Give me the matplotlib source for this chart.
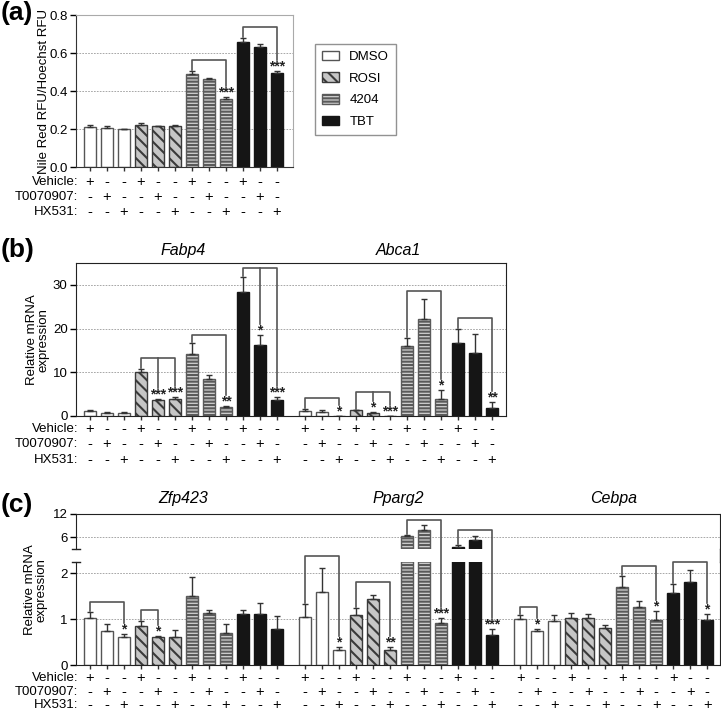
import numpy as np
import matplotlib
matplotlib.use('Agg')
import matplotlib.pyplot as plt
from matplotlib.patches import Patch
from matplotlib.lines import Line2D
from matplotlib.ticker import FormatStrFormatter

plt.rcParams['font.family'] = ['Liberation Sans', 'DejaVu Sans']
plt.rcParams['hatch.linewidth'] = 1.5

treatments = ['DMSO', 'ROSI', '4204', 'TBT']
row_names = ['Vehicle:', 'T0070907:', 'HX531:']

# (a) Nile red staining
nile_red = [0.211, 0.207, 0.199, 0.220, 0.214, 0.218, 0.487, 0.461, 0.357, 0.656, 0.629, 0.496]
nile_red_err = [0.012, 0.011, 0.003, 0.010, 0.004, 0.004, 0.016, 0.005, 0.010, 0.024, 0.016, 0.009]
nile_red_stars = {8: '***', 11: '***'}
nile_red_brackets = [(6, [8], 0.563), (9, [11], 0.738)]

# (b) Fabp4 / Abca1
fabp4 = [1.06, 0.76, 0.68, 10.0, 3.6, 3.9, 14.1, 8.4, 2.05, 28.3, 16.3, 3.7]
fabp4_err = [0.3, 0.24, 0.22, 0.8, 0.4, 0.5, 2.6, 1.0, 0.35, 3.5, 2.3, 0.7]
fabp4_stars = {4: '***', 5: '***', 8: '**', 10: '*', 11: '***'}
fabp4_brackets = [(3, [4, 5], 13.3), (6, [8], 18.6), (9, [10, 11], 33.8)]

abca1 = [1.14, 1.0, 0.08, 1.3, 0.7, 0.1, 15.9, 22.2, 3.9, 16.8, 14.4, 1.8]
abca1_err = [0.35, 0.36, 0.0, 0.1, 0.3, 0.0, 2.0, 4.6, 2.0, 3.2, 4.4, 1.3]
abca1_stars = {2: '*', 4: '*', 5: '***', 8: '*', 11: '**'}
abca1_brackets = [(0, [2], 4.2), (3, [4, 5], 5.5), (6, [8], 28.5), (9, [11], 22.4)]

# (c) Zfp423 / Pparg2 / Cebpa
zfp423 = [1.02, 0.74, 0.60, 0.85, 0.60, 0.60, 1.49, 1.13, 0.69, 1.12, 1.11, 0.79]
zfp423_err = [0.14, 0.15, 0.08, 0.11, 0.04, 0.16, 0.42, 0.06, 0.20, 0.07, 0.24, 0.28]
zfp423_stars = {2: '*', 4: '*'}
zfp423_brackets = [(0, [2], 1.38), (3, [4], 1.19)]

pparg2 = [1.05, 1.59, 0.33, 1.09, 1.43, 0.33, 6.35, 7.94, 0.91, 3.6, 5.2, 0.65]
pparg2_err = [0.27, 0.52, 0.07, 0.15, 0.10, 0.07, 0.35, 1.26, 0.12, 0.55, 1.1, 0.13]
pparg2_stars = {2: '*', 5: '**', 8: '***', 11: '***'}
pparg2_brackets = [(0, [2], 2.38), (3, [5], 1.80), (6, [8], 10.5), (9, [11], 8.0)]

cebpa = [1.0, 0.74, 0.96, 1.03, 1.02, 0.81, 1.69, 1.26, 0.97, 1.56, 1.80, 0.98]
cebpa_err = [0.09, 0.04, 0.12, 0.11, 0.08, 0.06, 0.24, 0.14, 0.20, 0.20, 0.27, 0.12]
cebpa_stars = {1: '*', 8: '*', 11: '*'}
cebpa_brackets = [(0, [1], 1.26), (6, [8], 2.16), (9, [11], 2.23)]

styles = {
    'DMSO': dict(facecolor='white', edgecolor='#555555'),
    'ROSI': dict(facecolor='#c6c6c6', edgecolor='#3a3a3a', hatch='\\\\\\'),
    '4204': dict(facecolor='#d0d0d0', edgecolor='#5a5a5a', hatch='-----'),
    'TBT': dict(facecolor='#151515', edgecolor='#151515'),
}

W, H = 721, 713
FS = 9.5
fig = plt.figure(figsize=(W / 100, H / 100), dpi=100)
inv = fig.transFigure.inverted()
GROUP_STEP = 12.65
BRK = '#555555'


def add_ax(l, t, r, b):
    return fig.add_axes([l / W, 1 - b / H, (r - l) / W, (b - t) / H])


def positions(g):
    return np.arange(12) + g * GROUP_STEP


def style_y(ax, grid=True):
    ax.tick_params(axis='y', direction='out', length=4, width=1, labelsize=FS, pad=2)
    if grid:
        ax.yaxis.grid(True, linestyle=(0, (2, 1.5)), color='#999999', linewidth=0.6)
    ax.set_axisbelow(True)


def draw_bars(ax, g, vals, errs):
    xs = positions(g)
    for i, x in enumerate(xs):
        ax.bar(x, vals[i], width=0.72, linewidth=1, **styles[treatments[i // 3]])
    ax.errorbar(xs, vals, yerr=[np.zeros(12), errs], fmt='none', ecolor='#333333',
                elinewidth=1, capsize=2.5, capthick=1)


def fig_line(pts, color=BRK, lw=1.2):
    p = inv.transform(np.array(pts, dtype=float))
    fig.add_artist(Line2D(p[:, 0], p[:, 1], transform=fig.transFigure, color=color, lw=lw))


def draw_sig(ymap, g, vals, errs, stars, brackets):
    xs = positions(g)

    def xpix(i):
        return ymap(0).transData.transform((xs[i], 0))[0]

    def ypix(i):
        v = vals[i] + errs[i]
        return ymap(v).transData.transform((xs[i], v))[1]

    for i, s in stars.items():
        fx, fy = inv.transform((xpix(i), ypix(i) + 0.5))
        fig.text(fx, fy, s, ha='center', va='baseline', fontsize=10, fontweight='bold',
                 color='#222222')
    for first, legs, top in brackets:
        ytop = ymap(top).transData.transform((0, top))[1]
        last = legs[-1]
        fig_line([(xpix(first), ypix(first) + 1), (xpix(first), ytop),
                  (xpix(last), ytop), (xpix(last), ypix(last) + (11 if last in stars else 2))])
        for m in legs[:-1]:
            fig_line([(xpix(m), ytop), (xpix(m), ypix(m) + (11 if m in stars else 2))])


def draw_signs(ax, ngroups, row_ys):
    for r, y in enumerate(row_ys):
        fig.text(78 / W, 1 - y / H, row_names[r], ha='right', va='center', fontsize=FS)
        for g in range(ngroups):
            for i, x in enumerate(positions(g)):
                fx = inv.transform(ax.transData.transform((x, 0)))[0]
                fig.text(fx, 1 - y / H, '+' if i % 3 == r else '-', ha='center',
                         va='center', fontsize=10.5)


def gene_title(ax, g, name, y):
    fx = inv.transform(ax.transData.transform((positions(g).mean(), 0)))[0]
    fig.text(fx, 1 - y / H, name, ha='center', va='center', fontsize=11.5, style='italic')


def all_xticks(ax, ngroups):
    ax.set_xticks(np.concatenate([positions(g) for g in range(ngroups)]))
    ax.tick_params(axis='x', length=3, width=1, labelbottom=False, color='#333333')


# ---------------- (a) ----------------
ax_a = add_ax(76, 15, 293, 167)
ax_a.set_xlim(-0.82, 11.94)
ax_a.set_ylim(0, 0.8)
ax_a.set_yticks([0, 0.2, 0.4, 0.6, 0.8])
ax_a.yaxis.set_major_formatter(FormatStrFormatter('%.1f'))
style_y(ax_a)
for s in ['top', 'right']:
    ax_a.spines[s].set_color('#aaaaaa')
for s in ['left', 'bottom']:
    ax_a.spines[s].set_color('#333333')
all_xticks(ax_a, 1)
draw_bars(ax_a, 0, nile_red, nile_red_err)
draw_sig(lambda v: ax_a, 0, nile_red, nile_red_err, nile_red_stars, nile_red_brackets)
draw_signs(ax_a, 1, [182, 197, 212])
fig.text(44 / W, 1 - 91 / H, 'Nile Red RFU/Hoechst RFU', rotation=90, ha='center',
         va='center', fontsize=FS)

handles = [Patch(linewidth=1, **styles[t]) for t in treatments]
leg = fig.legend(handles, treatments, loc='upper left', bbox_to_anchor=(315 / W, 1 - 44 / H),
                 borderaxespad=0, frameon=True, fancybox=False, edgecolor='#777777',
                 handlelength=1.35, handleheight=0.75, labelspacing=0.7, borderpad=0.5,
                 handletextpad=0.75, fontsize=FS)
leg.get_frame().set_linewidth(1)

# ---------------- (b) ----------------
ax_b = add_ax(76, 263, 506, 416)
ax_b.set_xlim(-0.82, 24.47)
ax_b.set_ylim(0, 35)
ax_b.set_yticks([0, 10, 20, 30])
style_y(ax_b)
for s in ax_b.spines.values():
    s.set_color('#222222')
all_xticks(ax_b, 2)
draw_bars(ax_b, 0, fabp4, fabp4_err)
draw_bars(ax_b, 1, abca1, abca1_err)
draw_sig(lambda v: ax_b, 0, fabp4, fabp4_err, fabp4_stars, fabp4_brackets)
draw_sig(lambda v: ax_b, 1, abca1, abca1_err, abca1_stars, abca1_brackets)
draw_signs(ax_b, 2, [429, 444, 460])
gene_title(ax_b, 0, 'Fabp4', 250)
gene_title(ax_b, 1, 'Abca1', 250)
fig.text(38 / W, 1 - 340 / H, 'Relative mRNA\nexpression', rotation=90, ha='center',
         va='center', fontsize=FS, linespacing=1.0)

# ---------------- (c) broken axis ----------------
ax_up = add_ax(76, 514, 720, 549)
ax_lo = add_ax(76, 562, 720, 665)
for ax in (ax_up, ax_lo):
    ax.set_xlim(-0.82, 37.06)
    style_y(ax)
    for s in ax.spines.values():
        s.set_color('#222222')
ax_up.set_ylim(3, 12)
ax_up.set_yticks([6, 12])
ax_up.spines['bottom'].set_visible(False)
ax_up.set_xticks([])
ax_lo.set_ylim(0, 2.24)
ax_lo.set_yticks([0, 1, 2])
ax_lo.spines['top'].set_visible(False)
all_xticks(ax_lo, 3)

genes_c = [(zfp423, zfp423_err, zfp423_stars, zfp423_brackets, 'Zfp423'),
           (pparg2, pparg2_err, pparg2_stars, pparg2_brackets, 'Pparg2'),
           (cebpa, cebpa_err, cebpa_stars, cebpa_brackets, 'Cebpa')]


def ymap_c(v):
    return ax_lo if v < 2.6 else ax_up


for g, (vals, errs, stars, brks, name) in enumerate(genes_c):
    draw_bars(ax_up, g, vals, errs)
    draw_bars(ax_lo, g, vals, errs)
    draw_sig(ymap_c, g, vals, errs, stars, brks)
    gene_title(ax_lo, g, name, 498)

# break caps on the left spine, join the right spine
fig_line([(72, H - 549), (80, H - 549)], color='#222222', lw=1)
fig_line([(72, H - 562), (80, H - 562)], color='#222222', lw=1)
fig_line([ax_lo.transAxes.transform((1, 1)), ax_up.transAxes.transform((1, 0))],
         color='#222222', lw=1)
draw_signs(ax_lo, 3, [678, 692, 705])
fig.text(36 / W, 1 - 590 / H, 'Relative mRNA\nexpression', rotation=90, ha='center',
         va='center', fontsize=FS, linespacing=1.0)

# panel letters
for lab, y in [('(a)', 13), ('(b)', 250), ('(c)', 505)]:
    fig.text(1 / W, 1 - y / H, lab, fontsize=19, fontweight='bold', ha='left', va='center')

fig.savefig('out.png', dpi=100)
